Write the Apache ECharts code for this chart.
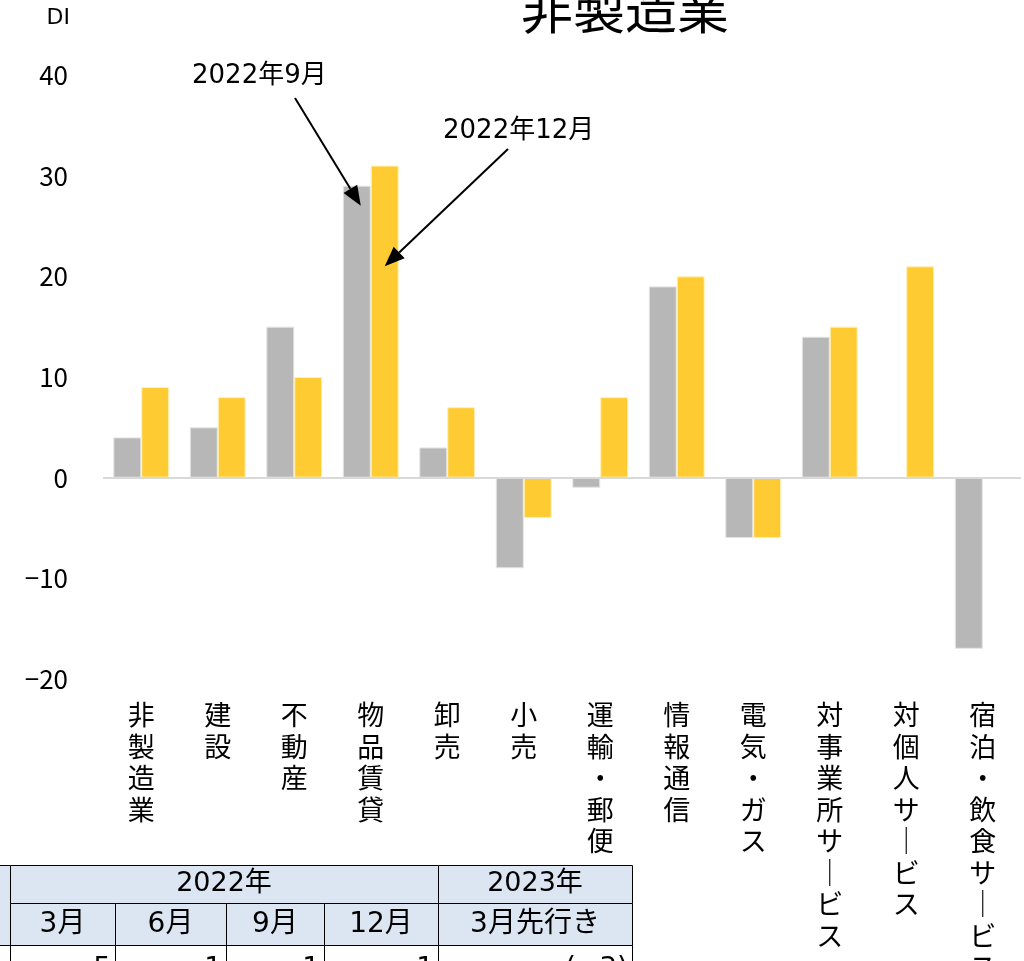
<!DOCTYPE html>
<html>
<head>
<meta charset="utf-8">
<script src="https://cdn.jsdelivr.net/npm/echarts@6/dist/echarts.min.js"></script>
<style>
  html, body { margin: 0; padding: 0; background: #fff; }
  #chart { width: 1024px; height: 961px; }
</style>
</head>
<body>
<div id="chart"></div>
<script>
// データ
const categories = ['非製造業', '建設', '不動産', '物品賃貸', '卸売', '小売', '運輸・郵便', '情報通信', '電気・ガス', '対事業所サービス', '対個人サービス', '宿泊・飲食サービス']
const sep2022 = [4, 5, 15, 29, 3, -9, -1, 19, -6, 14, 0, -17]
const dec2022 = [9, 8, 10, 31, 7, -4, 8, 20, -6, 15, 21, 0]
const yMin = -20
const yMax = 40
const yInterval = 10

// 下の表
const tableYears = ['2022年', '2023年']
const tableMonths = ['3月', '6月', '9月', '12月', '3月先行き']
const tableValues = ['5', '1', '1', '1', '(−3)']

const FONT = '"Noto Sans CJK JP", "Noto Sans", sans-serif'
const FONT_NUM = '"DejaVu Sans", "Noto Sans CJK JP", sans-serif'
const GRAY = '#b7b7b7'
const YELLOW = '#fecb33'

const chart = echarts.init(document.getElementById('chart'))

// 縦書き風ラベル
const verticalLabel = (s) => s.split('').map(c => c === 'ー' ? '｜' : c).join('\n')

const option = {
  animation: false,
  backgroundColor: '#fff',
  grid: { left: 103, right: 3, top: 75, bottom: 282, containLabel: false, outerBoundsMode: 'none' },
  xAxis: {
    type: 'category',
    data: categories,
    axisLine: { show: false, onZero: false },
    axisTick: { show: false },
    axisLabel: {
      interval: 0,
      margin: 20,
      color: '#000',
      fontSize: 27,
      lineHeight: 31.5,
      fontFamily: FONT,
      verticalAlign: 'top',
      formatter: verticalLabel
    }
  },
  yAxis: {
    type: 'value',
    min: yMin,
    max: yMax,
    interval: yInterval,
    name: 'DI',
    nameLocation: 'end',
    nameGap: 46,
    nameTextStyle: { color: '#000', fontSize: 22, fontFamily: FONT_NUM, align: 'right', padding: [0, 33, 0, 0] },
    axisLine: { show: false },
    axisTick: { show: false },
    splitLine: { show: false },
    axisLabel: {
      margin: 35,
      color: '#000',
      fontSize: 26,
      fontFamily: FONT,
      formatter: (v) => v < 0 ? '−' + Math.abs(v) : String(v)
    }
  },
  series: [
    {
      name: '2022年9月',
      type: 'bar',
      data: sep2022,
      barGap: '0%',
      barCategoryGap: '27%',
      itemStyle: { color: GRAY, borderColor: '#e4e4e4', borderWidth: 1 },
      markLine: {
        silent: true,
        symbol: 'none',
        label: { show: false },
        lineStyle: { color: '#d9d9d9', width: 2, type: 'solid' },
        data: [{ yAxis: 0 }]
      }
    },
    {
      name: '2022年12月',
      type: 'bar',
      data: dec2022,
      itemStyle: { color: YELLOW, borderColor: '#fff0b8', borderWidth: 1 }
    }
  ]
}

chart.setOption(option)

// 注釈の矢印（棒の位置から計算）
function arrow(from, to) {
  const dx = to[0] - from[0]
  const dy = to[1] - from[1]
  const len = Math.sqrt(dx * dx + dy * dy)
  const ux = dx / len
  const uy = dy / len
  const head = 20
  const half = 8
  const bx = to[0] - ux * head
  const by = to[1] - uy * head
  return [
    { type: 'line', z: 100, shape: { x1: from[0], y1: from[1], x2: bx, y2: by }, style: { stroke: '#000', lineWidth: 2 } },
    {
      type: 'polygon',
      z: 100,
      shape: { points: [to, [bx - uy * half, by + ux * half], [bx + uy * half, by - ux * half]] },
      style: { fill: '#000' }
    }
  ]
}

const band = (1024 - 103 - 3) / categories.length
const barW = band * 0.73 / 2
const tip1 = chart.convertToPixel({ gridIndex: 0 }, [3, 27])
const tip2 = chart.convertToPixel({ gridIndex: 0 }, [3, 21])
tip1[0] = tip1[0] - barW / 2 + 4
tip2[0] = tip2[0] + barW / 2

const textEl = (text, x, y, size, align, family) => ({
  type: 'text',
  z: 100,
  x: x, y: y,
  style: { text: text, fill: '#000', font: size + 'px ' + (family || FONT), align: align || 'left', verticalAlign: 'middle', textAlign: align || 'left', textVerticalAlign: 'middle' }
})

// 表
const cols = [10, 115, 226, 324, 438, 632]
const rows = [865, 903, 945, 990]
const HEAD = '#dce6f2'
const tableEls = []
const cell = (x1, y1, x2, y2, fill) => tableEls.push({
  type: 'rect', z: 100, shape: { x: x1 + 0.5, y: y1 + 0.5, width: x2 - x1, height: y2 - y1 },
  style: { fill: fill, stroke: '#000', lineWidth: 1 }
})
cell(-5, rows[0], cols[0], rows[2], HEAD)
cell(-5, rows[2], cols[0], rows[3], '#fff')
cell(cols[0], rows[0], cols[4], rows[1], HEAD)
cell(cols[4], rows[0], cols[5], rows[1], HEAD)
for (let i = 0; i < 5; i++) {
  cell(cols[i], rows[1], cols[i + 1], rows[2], HEAD)
  cell(cols[i], rows[2], cols[i + 1], rows[3], '#fff')
}
tableEls.push(textEl(tableYears[0], (cols[0] + cols[4]) / 2, 884, 27, 'center', FONT_NUM))
tableEls.push(textEl(tableYears[1], (cols[4] + cols[5]) / 2, 884, 27, 'center', FONT_NUM))
tableMonths.forEach((m, i) => tableEls.push(textEl(m, (cols[i] + cols[i + 1]) / 2, 925, 28, 'center', FONT_NUM)))
tableValues.forEach((v, i) => tableEls.push(textEl(v, cols[i + 1] - 4, 970, 28, 'right', FONT_NUM)))

chart.setOption({
  graphic: [
    textEl('非製造業', 521, 9, 52, 'left'),
    textEl('2022年9月', 192, 76, 26, 'left', FONT_NUM),
    textEl('2022年12月', 443, 131, 26, 'left', FONT_NUM),
    ...arrow([295, 98], tip1),
    ...arrow([508, 149], tip2),
    ...tableEls
  ]
})
</script>
</body>
</html>
